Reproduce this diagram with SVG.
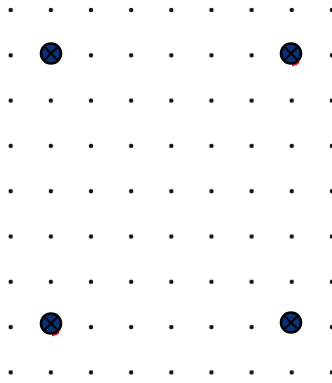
<svg xmlns="http://www.w3.org/2000/svg" width="332" height="383" viewBox="0 0 332 383">
<defs>
<style>
.d{fill:#111}
.n circle{fill:#0b3278;stroke:#000;stroke-width:2.6}
.n path{stroke:#000;stroke-width:2;fill:none}
.n path.r{fill:none;stroke:#ff1a1a;stroke-width:2.2}
</style>
<pattern id="g" x="10.7" y="10" width="40.15" height="45.3" patternUnits="userSpaceOnUse">
<circle cx="0" cy="0" r="2.2" class="d"/>
<circle cx="40.15" cy="0" r="2.2" class="d"/>
<circle cx="0" cy="45.3" r="2.2" class="d"/>
<circle cx="40.15" cy="45.3" r="2.2" class="d"/>
</pattern>
</defs>
<rect width="332" height="383" fill="#fff"/>
<rect width="332" height="383" fill="url(#g)"/>
<g id="connectors"></g>
<g id="n1" class="n"><circle cx="51" cy="53.5" r="10"/><path d="M44.5 47L57.5 60M57.5 47L44.5 60"/></g>
<g id="n2" class="n"><path class="r" d="M299 62a11.5 11.5 0 0 1 -7 3.5"/><circle cx="291" cy="53.5" r="10"/><path d="M284.5 47L297.5 60M297.5 47L284.5 60"/></g>
<g id="n3" class="n"><path class="r" d="M59 332a11.5 11.5 0 0 1 -7 3.5"/><circle cx="51" cy="323.5" r="10"/><path d="M44.5 317L57.5 330M57.5 317L44.5 330"/></g>
<g id="n4" class="n"><circle cx="291" cy="322.5" r="10"/><path d="M284.5 316L297.5 329M297.5 316L284.5 329"/></g>
</svg>
